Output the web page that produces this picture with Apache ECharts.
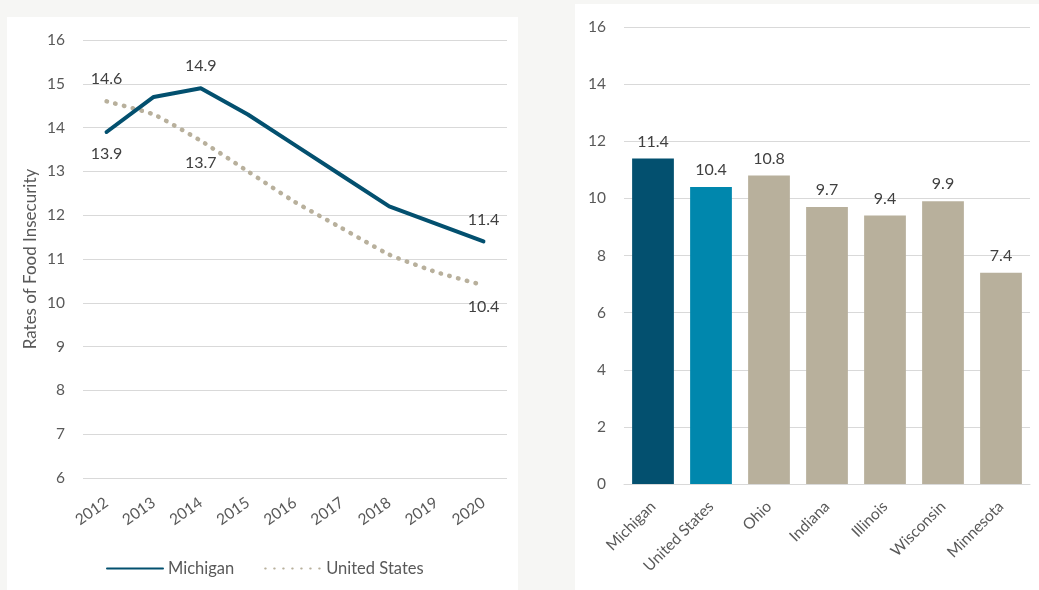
<!DOCTYPE html>
<html>
<head>
<meta charset="utf-8">
<script src="https://cdn.jsdelivr.net/npm/echarts@6/dist/echarts.min.js"></script>
<style>
  html, body { margin: 0; padding: 0; background: #f6f6f4; }
  #chart { width: 1039px; height: 590px; }
</style>
</head>
<body>
<div id="chart"></div>
<script>
// Food insecurity rates over time (left) and in 2020 by state (right)
const years = ['2012', '2013', '2014', '2015', '2016', '2017', '2018', '2019', '2020'];
const michiganRates = [13.9, 14.7, 14.9, 14.3, 13.6, 12.9, 12.2, 11.8, 11.4];
const usRates = [14.6, 14.3, 13.7, 13.0, 12.3, 11.7, 11.1, 10.7, 10.4];
// Which points carry a value label, and on which side
const michiganLabelSides = { 0: 'bottom', 2: 'top', 8: 'top' };
const usLabelSides = { 0: 'top', 2: 'bottom', 8: 'bottom' };

const regions = ['Michigan', 'United States', 'Ohio', 'Indiana', 'Illinois', 'Wisconsin', 'Minnesota'];
const regionRates = [11.4, 10.4, 10.8, 9.7, 9.4, 9.9, 7.4];

const FONT = 'Lato, "Open Sans", sans-serif';
const NAVY = '#03506f';
const TEAL = '#0087ad';
const TAUPE = '#b8b09c';
const TICK = '#595959';
const LABEL = '#404040';
const GRID = '#d9d9d9';

function labelled(values, sides) {
  return values.map((v, i) => {
    const item = { value: v };
    if (i in sides) {
      item.label = {
        show: true, position: sides[i], distance: 14,
        color: LABEL, fontSize: 16, fontFamily: FONT,
        formatter: (p) => p.value.toFixed(1)
      };
    }
    return item;
  });
}

const barColors = [NAVY, TEAL, TAUPE, TAUPE, TAUPE, TAUPE, TAUPE];

const chart = echarts.init(document.getElementById('chart'), null, { renderer: 'canvas' });
chart.setOption({
  animation: false,
  backgroundColor: '#f6f6f4',
  textStyle: { fontFamily: FONT },
  graphic: [
    { type: 'rect', z: -10, shape: { x: 7, y: 17, width: 511, height: 580 }, style: { fill: '#ffffff' } },
    { type: 'rect', z: -10, shape: { x: 575, y: 4, width: 470, height: 590 }, style: { fill: '#ffffff' } }
  ],
  legend: {
    data: ['Michigan', 'United States'],
    left: 101, top: 555,
    itemWidth: 56, itemHeight: 14, itemGap: 30,
    itemStyle: { opacity: 0 },
    textStyle: { color: TICK, fontSize: 16.5, fontFamily: FONT }
  },
  grid: [
    { left: 83, right: 532, top: 40, bottom: 112 },
    { left: 624, right: 9, top: 27, bottom: 106 }
  ],
  xAxis: [
    {
      type: 'category', gridIndex: 0, data: years, boundaryGap: true,
      axisLine: { show: false }, axisTick: { show: false },
      axisLabel: { color: TICK, fontSize: 15.5, fontFamily: FONT, rotate: 35, margin: 23 }
    },
    {
      type: 'category', gridIndex: 1, data: regions,
      axisLine: { show: true, lineStyle: { color: GRID, width: 1 } }, axisTick: { show: false },
      axisLabel: { color: TICK, fontSize: 15.5, fontFamily: FONT, rotate: 45, margin: 20, interval: 0 }
    }
  ],
  yAxis: [
    {
      type: 'value', gridIndex: 0, min: 6, max: 16, interval: 1,
      name: 'Rates of Food Insecurity', nameLocation: 'middle', nameGap: 44, nameRotate: 90,
      nameTextStyle: { color: TICK, fontSize: 17, fontFamily: FONT },
      axisLine: { show: false }, axisTick: { show: false },
      axisLabel: { color: TICK, fontSize: 15.5, fontFamily: FONT, margin: 18 },
      splitLine: { lineStyle: { color: GRID, width: 1 } }
    },
    {
      type: 'value', gridIndex: 1, min: 0, max: 16, interval: 2,
      axisLine: { show: false }, axisTick: { show: false },
      axisLabel: { color: TICK, fontSize: 15.5, fontFamily: FONT, margin: 18 },
      splitLine: { lineStyle: { color: GRID, width: 1 } }
    }
  ],
  series: [
    {
      name: 'Michigan', type: 'line', xAxisIndex: 0, yAxisIndex: 0,
      data: labelled(michiganRates, michiganLabelSides),
      symbol: 'circle', symbolSize: 0.01, showSymbol: true,
      color: NAVY,
      itemStyle: { color: NAVY, borderWidth: 0 },
      lineStyle: { color: NAVY, width: 4, join: 'round', cap: 'round' },
      z: 3
    },
    {
      name: 'United States', type: 'line', xAxisIndex: 0, yAxisIndex: 0,
      data: labelled(usRates, usLabelSides),
      symbol: 'circle', symbolSize: 0.01, showSymbol: true, smooth: 0.15,
      color: TAUPE,
      itemStyle: { color: TAUPE, borderWidth: 0 },
      lineStyle: { color: TAUPE, width: 4.5, type: [0.5, 8.5], cap: 'round' },
      z: 2
    },
    {
      type: 'bar', xAxisIndex: 1, yAxisIndex: 1,
      data: regionRates.map((v, i) => ({ value: v, itemStyle: { color: barColors[i] } })),
      barCategoryGap: '28%',
      label: {
        show: true, position: 'top', distance: 9,
        color: LABEL, fontSize: 16, fontFamily: FONT,
        formatter: (p) => p.value.toFixed(1)
      }
    }
  ]
});
</script>
</body>
</html>
